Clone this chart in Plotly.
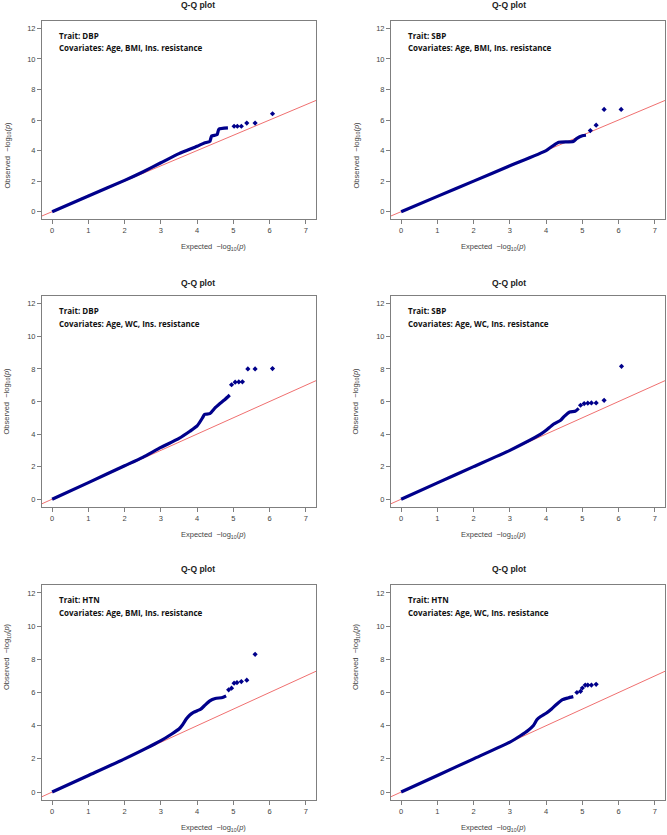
import plotly.graph_objects as go

# Panel labels
traits = ["DBP", "SBP", "DBP", "SBP", "HTN", "HTN"]
covariates = ["Age, BMI, Ins. resistance", "Age, BMI, Ins. resistance",
              "Age, WC, Ins. resistance", "Age, WC, Ins. resistance",
              "Age, BMI, Ins. resistance", "Age, WC, Ins. resistance"]

# dense part of each Q-Q curve (expected, observed)
dense_x = [
    [0, 1, 2, 2.5, 3, 3.5, 4, 4.2, 4.35, 4.4, 4.55, 4.6, 4.85],
    [0, 1, 2, 3, 4, 4.2, 4.35, 4.75, 4.85, 5.0, 5.1],
    [0, 1, 2, 2.5, 3, 3.5, 3.8, 4, 4.15, 4.2, 4.35, 4.5, 4.6, 4.75, 4.9],
    [0, 1, 2, 3, 3.85, 4.0, 4.2, 4.4, 4.5, 4.65, 4.8, 4.9],
    [0, 1, 2, 3, 3.3, 3.5, 3.6, 3.7, 3.8, 3.9, 4.0, 4.1, 4.2, 4.35, 4.5, 4.7, 4.8],
    [0, 1, 2, 3, 3.3, 3.5, 3.65, 3.75, 3.85, 4.0, 4.15, 4.3, 4.45, 4.6, 4.75],
]
dense_y = [
    [0, 1.02, 2.05, 2.6, 3.2, 3.8, 4.28, 4.5, 4.6, 4.95, 5.04, 5.4, 5.48],
    [0, 1.0, 2.0, 3.0, 4.0, 4.33, 4.54, 4.6, 4.8, 4.97, 5.0],
    [0, 1.02, 2.05, 2.57, 3.18, 3.73, 4.17, 4.5, 5.0, 5.2, 5.25, 5.62, 5.82, 6.09, 6.4],
    [0, 1.0, 2.0, 3.0, 3.99, 4.23, 4.6, 4.85, 5.09, 5.36, 5.4, 5.58],
    [0, 1.0, 2.0, 3.1, 3.5, 3.8, 4.06, 4.4, 4.64, 4.8, 4.9, 5.0, 5.2, 5.5, 5.64, 5.7, 5.8],
    [0, 1.0, 2.0, 3.01, 3.41, 3.71, 4.01, 4.37, 4.55, 4.75, 5.01, 5.31, 5.57, 5.67, 5.75],
]
# sparse tail points
tail_x = [
    [5.02, 5.11, 5.22, 5.37, 5.6, 6.08],
    [5.22, 5.38, 5.6, 6.07],
    [4.95, 5.05, 5.15, 5.25, 5.4, 5.6, 6.08],
    [4.95, 5.05, 5.15, 5.25, 5.38, 5.6, 6.08],
    [4.87, 4.95, 5.02, 5.1, 5.22, 5.37, 5.6],
    [4.85, 4.95, 5.0, 5.08, 5.15, 5.25, 5.38],
]
tail_y = [
    [5.59, 5.59, 5.59, 5.8, 5.8, 6.41],
    [5.31, 5.66, 6.69, 6.69],
    [7.03, 7.19, 7.2, 7.21, 8.0, 8.0, 8.02],
    [5.77, 5.87, 5.9, 5.91, 5.91, 6.07, 8.16],
    [6.16, 6.26, 6.56, 6.6, 6.66, 6.74, 8.3],
    [6.0, 6.07, 6.27, 6.45, 6.45, 6.45, 6.49],
]

x_ticks = [0, 1, 2, 3, 4, 5, 6, 7]
y_ticks = [0, 2, 4, 6, 8, 10, 12]

W, H = 667, 835
col_px = [(42, 316), (391, 665)]
row_px = [(21, 219), (296, 507), (585, 800)]
title_off = [16, 13, 16]

BLUE = "#00008B"
RED = "#F07070"
GREY = "#7f7f7f"
TXT = "#444444"

fig = go.Figure()
annotations = []
layout = {}

for i in range(6):
    r, c = divmod(i, 2)
    n = "" if i == 0 else str(i + 1)
    xa, ya = "x" + n, "y" + n
    x0, x1 = col_px[c]
    y0, y1 = row_px[r]

    # y = x reference line
    fig.add_trace(go.Scatter(x=[-1, 8], y=[-1, 8], mode="lines",
                             line=dict(color=RED, width=1),
                             xaxis=xa, yaxis=ya, showlegend=False, hoverinfo="skip"))
    fig.add_trace(go.Scatter(x=dense_x[i], y=dense_y[i], mode="lines",
                             line=dict(color=BLUE, width=3.2, shape="spline", smoothing=0.5),
                             xaxis=xa, yaxis=ya, showlegend=False))
    fig.add_trace(go.Scatter(x=tail_x[i], y=tail_y[i], mode="markers",
                             marker=dict(color=BLUE, size=4, symbol="diamond"),
                             xaxis=xa, yaxis=ya, showlegend=False))

    common = dict(showline=True, mirror=True, linecolor=GREY, linewidth=1,
                  ticks="outside", ticklen=4, tickcolor=GREY, showgrid=False,
                  zeroline=False, tickfont=dict(family="Liberation Sans", size=7.5, color=TXT))
    layout["xaxis" + n] = dict(common, domain=[x0 / W, x1 / W], anchor=ya,
                               range=[-0.28, 7.28], tickvals=x_ticks)
    layout["yaxis" + n] = dict(common, domain=[1 - y1 / H, 1 - y0 / H], anchor=xa,
                               range=[-0.48, 12.48], tickvals=y_ticks)

    cx = (x0 + x1) / 2
    annotations.append(dict(text="<b>Q-Q plot</b>", x=cx / W, y=1 - (y0 - title_off[r]) / H,
                            xref="paper", yref="paper", showarrow=False, yanchor="middle",
                            font=dict(family="Liberation Sans", size=8.5, color="#222222")))
    annotations.append(dict(text="Expected  \u2212log<sub>10</sub>(<i>p</i>)",
                            x=cx / W, y=1 - (y1 + 28) / H, xref="paper", yref="paper",
                            showarrow=False, yanchor="middle",
                            font=dict(family="Liberation Sans", size=7.5, color=TXT)))
    annotations.append(dict(text="Observed  \u2212log<sub>10</sub>(<i>p</i>)",
                            x=(x0 - 35) / W, y=1 - ((y0 + y1) / 2) / H, xref="paper",
                            yref="paper", showarrow=False, textangle=-90, xanchor="center",
                            font=dict(family="Liberation Sans", size=7.5, color=TXT)))
    annotations.append(dict(text="<b>Trait: " + traits[i] + "</b>",
                            x=(x0 + 15) / W, y=1 - (y0 + 14) / H, xref="paper", yref="paper",
                            xanchor="left", yanchor="middle", showarrow=False,
                            font=dict(family="Open Sans", size=8, color="#111111")))
    annotations.append(dict(text="<b>Covariates: " + covariates[i] + "</b>",
                            x=(x0 + 15) / W, y=1 - (y0 + 27) / H, xref="paper", yref="paper",
                            xanchor="left", yanchor="middle", showarrow=False,
                            font=dict(family="Open Sans", size=8, color="#111111")))

fig.update_layout(**layout)
fig.update_layout(width=W, height=H, margin=dict(l=0, r=0, t=0, b=0),
                  paper_bgcolor="white", plot_bgcolor="white",
                  annotations=annotations)

# drop the browser's default body margin so the figure sits at the page corner
fig.write_html("out.html", config={"displayModeBar": False},
               post_script="document.body.style.margin='0';")
